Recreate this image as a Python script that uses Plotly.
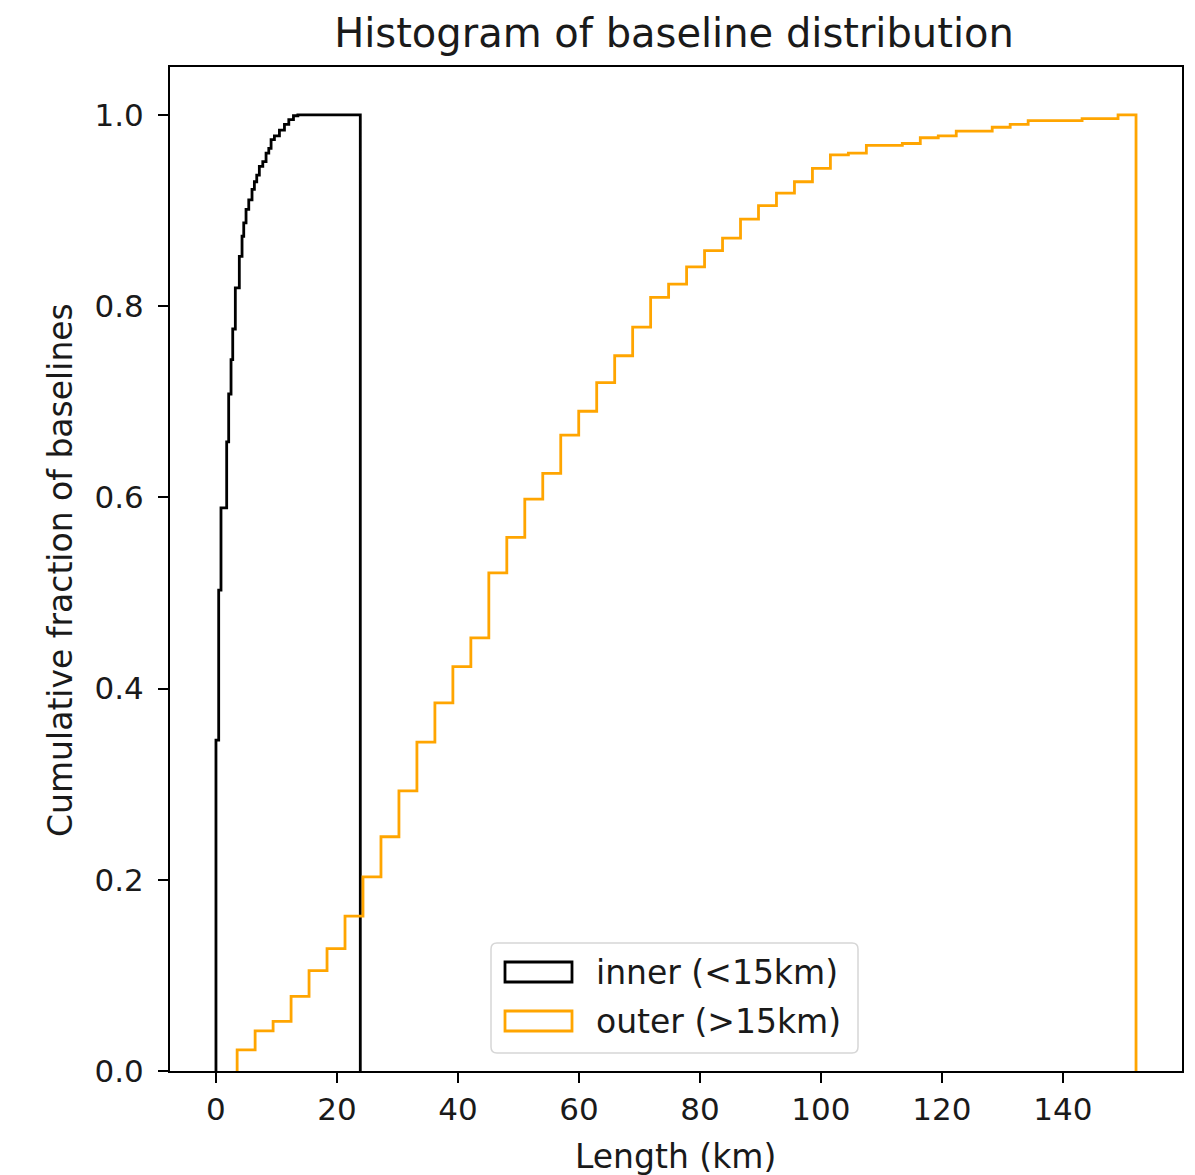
import numpy as np
import plotly.graph_objects as go

# inner baselines (<15km): bin edges (km) and cumulative fraction in each bin
inner_edges = [0.0, 0.45, 0.83, 1.77, 2.10, 2.49, 2.77, 3.20, 3.86, 4.31,
               4.59, 4.97, 5.42, 5.96, 6.35, 6.74, 7.17, 7.74, 8.28, 8.73,
               9.11, 9.66, 10.49, 11.32, 12.04, 12.81, 13.54, 23.86]
inner_cum = [0.346, 0.503, 0.589, 0.658, 0.708, 0.744, 0.776, 0.819, 0.852, 0.873,
             0.887, 0.901, 0.911, 0.922, 0.930, 0.937, 0.946, 0.951, 0.960, 0.965,
             0.974, 0.978, 0.984, 0.990, 0.995, 0.999, 1.0]

# outer baselines (>15km): 50 equal bins between min and max length
outer_min = 3.5
outer_max = 152.1
outer_cum = [0.022, 0.042, 0.052, 0.078, 0.105, 0.128, 0.162, 0.203, 0.245, 0.293,
             0.344, 0.385, 0.423, 0.453, 0.521, 0.558, 0.598, 0.625, 0.665, 0.690,
             0.720, 0.748, 0.778, 0.809, 0.823, 0.841, 0.858, 0.871, 0.891, 0.905,
             0.918, 0.930, 0.944, 0.958, 0.960, 0.968, 0.968, 0.970, 0.976, 0.978,
             0.983, 0.983, 0.987, 0.990, 0.994, 0.994, 0.994, 0.996, 0.996, 1.0]
outer_edges = np.linspace(outer_min, outer_max, len(outer_cum) + 1)

x_ticks = [0, 20, 40, 60, 80, 100, 120, 140]
y_ticks = [0.0, 0.2, 0.4, 0.6, 0.8, 1.0]

series = [
    ("inner (<15km)", inner_edges, inner_cum, "black"),
    ("outer (>15km)", outer_edges, outer_cum, "#FFA500"),
]

W, H = 1195, 1175
L, R, T, B = 170, 13, 67, 104
FONT = "DejaVu Sans"
TXT = "#1a1a1a"


def step_xy(edges, cum):
    # outline of a matplotlib 'step' histogram (no bottom line)
    edges = list(edges)
    xs = [edges[0]] + edges[:-1] + [edges[-1], edges[-1]]
    ys = [0] + list(cum) + [cum[-1], 0]
    return xs, ys


def px(x):
    return (x - L) / (W - L - R)


def py(y):
    return (H - B - y) / (H - T - B)


fig = go.Figure()
for name, edges, cum, color in series:
    xs, ys = step_xy(edges, cum)
    fig.add_trace(go.Scatter(x=xs, y=ys, mode="lines", name=name,
                             line=dict(color=color, width=2.8, shape="hv"),
                             showlegend=False, hoverinfo="skip"))

# legend box drawn like matplotlib's (rounded frame, rectangle patches)
x0, x1, y0, y1, r = 491, 858, 943, 1053, 6
rx, ry = px(x0 + r) - px(x0), py(y0) - py(y0 + r)
X0, X1, Y0, Y1 = px(x0), px(x1), py(y1), py(y0)
path = (f"M{X0 + rx},{Y0} L{X1 - rx},{Y0} Q{X1},{Y0} {X1},{Y0 + ry} "
        f"L{X1},{Y1 - ry} Q{X1},{Y1} {X1 - rx},{Y1} L{X0 + rx},{Y1} "
        f"Q{X0},{Y1} {X0},{Y1 - ry} L{X0},{Y0 + ry} Q{X0},{Y0} {X0 + rx},{Y0} Z")
shapes = [dict(type="path", xref="paper", yref="paper", path=path,
               fillcolor="rgba(255,255,255,0.8)", line=dict(color="#d6d6d6", width=1.5))]
annotations = []
for i, (name, edges, cum, color) in enumerate(series):
    cy = 972 + i * 49
    shapes.append(dict(type="rect", xref="paper", yref="paper",
                       x0=px(505), x1=px(572), y0=py(cy + 10), y1=py(cy - 10),
                       line=dict(color=color, width=2.8), fillcolor="rgba(0,0,0,0)"))
    annotations.append(dict(xref="paper", yref="paper", x=px(594), y=py(cy),
                            xanchor="left", yanchor="middle", showarrow=False,
                            text=name.replace("<", "&lt;").replace(">", "&gt;"),
                            font=dict(family=FONT, size=33, color=TXT)))

# axis titles
annotations.append(dict(xref="paper", yref="paper", x=px(675), y=py(1156),
                        xanchor="center", yanchor="middle", showarrow=False,
                        text="Length (km)", font=dict(family=FONT, size=33, color=TXT)))
annotations.append(dict(xref="paper", yref="paper", x=px(60), y=py(570),
                        xanchor="center", yanchor="middle", showarrow=False,
                        textangle=-90, text="Cumulative fraction of baselines",
                        font=dict(family=FONT, size=33, color=TXT)))

axis_common = dict(showline=True, mirror=True, linecolor="black", linewidth=2,
                   ticks="outside", ticklen=10, tickwidth=2, tickcolor="black",
                   showgrid=False, zeroline=False, automargin=False,
                   tickfont=dict(family=FONT, size=31, color=TXT))

fig.update_layout(
    width=W, height=H,
    margin=dict(l=L, r=R, t=T, b=B),
    paper_bgcolor="white", plot_bgcolor="white",
    title=dict(text="Histogram of baseline distribution", x=px(674), xref="paper",
               xanchor="center", y=1 - 33 / H, yref="container", yanchor="middle",
               font=dict(family=FONT, size=40, color=TXT)),
    xaxis=dict(range=[-7.6, 159.7], tickvals=x_ticks, **axis_common),
    yaxis=dict(range=[0, 1.05], tickvals=y_ticks, tickformat=".1f",
               ticklabelstandoff=8, **axis_common),
    shapes=shapes,
    annotations=annotations,
    showlegend=False,
)

fig.write_html("out.html", config={"displayModeBar": False},
               post_script="document.body.style.margin='0';")
